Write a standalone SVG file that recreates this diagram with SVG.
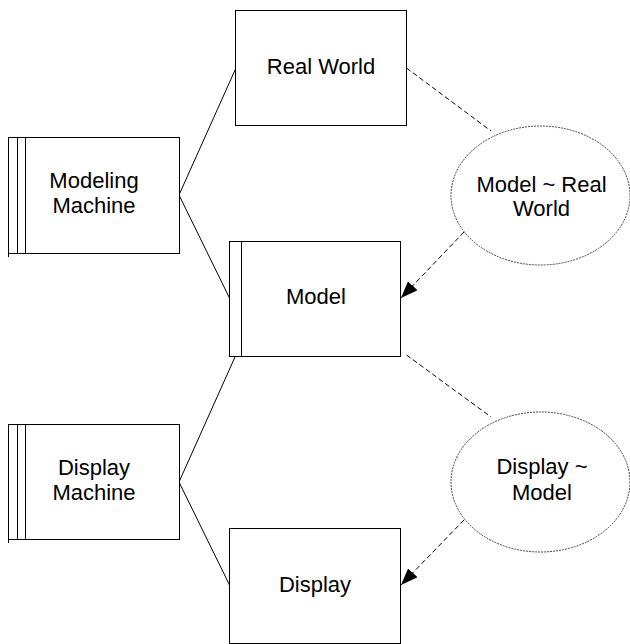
<svg xmlns="http://www.w3.org/2000/svg" width="630" height="644" viewBox="0 0 630 644">
<style>
.box{fill:#fff;stroke:#000;stroke-width:1}
.bar{stroke:#000;stroke-width:1;fill:none}
.ell{fill:#fff;stroke:#444;stroke-width:1;stroke-dasharray:2,1}
.lbl{font-family:"Liberation Sans",Arial,sans-serif;font-size:22px;fill:#000;text-anchor:middle}
.solid{stroke:#000;stroke-width:1;fill:none}
.dash{stroke:#000;stroke-width:1;fill:none;stroke-dasharray:5,3}
</style>
<defs>
<marker id="arr" markerUnits="userSpaceOnUse" markerWidth="20" markerHeight="16" refX="17" refY="6.5" orient="auto">
<path d="M0,0 L17,6.5 L0,13 Z" fill="#000"/>
</marker>
</defs>
<rect width="630" height="644" fill="#fff"/>
<g id="connectors">
<line class="solid" x1="179" y1="195" x2="235.5" y2="69"/>
<line class="solid" x1="179" y1="195" x2="229.5" y2="298"/>
<line class="solid" x1="179" y1="482" x2="235" y2="357"/>
<line class="solid" x1="179" y1="482" x2="229.5" y2="585"/>
<line class="dash" x1="406.5" y1="68" x2="491" y2="131"/>
<line class="dash" x1="464" y1="232" x2="401" y2="298" marker-end="url(#arr)"/>
<line class="dash" x1="406.5" y1="355" x2="491" y2="417"/>
<line class="dash" x1="464" y1="520" x2="401" y2="585" marker-end="url(#arr)"/>
</g>
<g id="real-world">
<rect class="box" x="235.5" y="10.5" width="171" height="115"/>
<text class="lbl" x="321" y="74">Real World</text>
</g>
<g id="modeling-machine">
<rect class="box" x="8.5" y="137.5" width="171" height="116"/>
<line class="bar" x1="8.5" y1="137.5" x2="8.5" y2="257"/>
<line class="bar" x1="17.5" y1="137.5" x2="17.5" y2="253.5"/>
<line class="bar" x1="25.5" y1="137.5" x2="25.5" y2="253.5"/>
<text class="lbl" x="94" y="187.5">Modeling</text>
<text class="lbl" x="94" y="213">Machine</text>
</g>
<g id="model">
<rect class="box" x="229.5" y="241.5" width="171" height="115"/>
<line class="bar" x1="241.5" y1="241.5" x2="241.5" y2="356.5"/>
<text class="lbl" x="316" y="304">Model</text>
</g>
<g id="model-real-world">
<ellipse class="ell" cx="540.5" cy="195.5" rx="89.5" ry="69.5"/>
<text class="lbl" x="541.5" y="192">Model ~ Real</text>
<text class="lbl" x="541.5" y="216">World</text>
</g>
<g id="display-machine">
<rect class="box" x="8.5" y="424.5" width="171" height="115"/>
<line class="bar" x1="8.5" y1="424.5" x2="8.5" y2="543"/>
<line class="bar" x1="17.5" y1="424.5" x2="17.5" y2="539.5"/>
<line class="bar" x1="25.5" y1="424.5" x2="25.5" y2="539.5"/>
<text class="lbl" x="94" y="475">Display</text>
<text class="lbl" x="94" y="500">Machine</text>
</g>
<g id="display-model">
<ellipse class="ell" cx="540.5" cy="482" rx="89.5" ry="70"/>
<text class="lbl" x="542" y="474">Display ~</text>
<text class="lbl" x="542" y="500">Model</text>
</g>
<g id="display">
<rect class="box" x="229.5" y="528.5" width="171" height="115"/>
<text class="lbl" x="315" y="592">Display</text>
</g>
</svg>
